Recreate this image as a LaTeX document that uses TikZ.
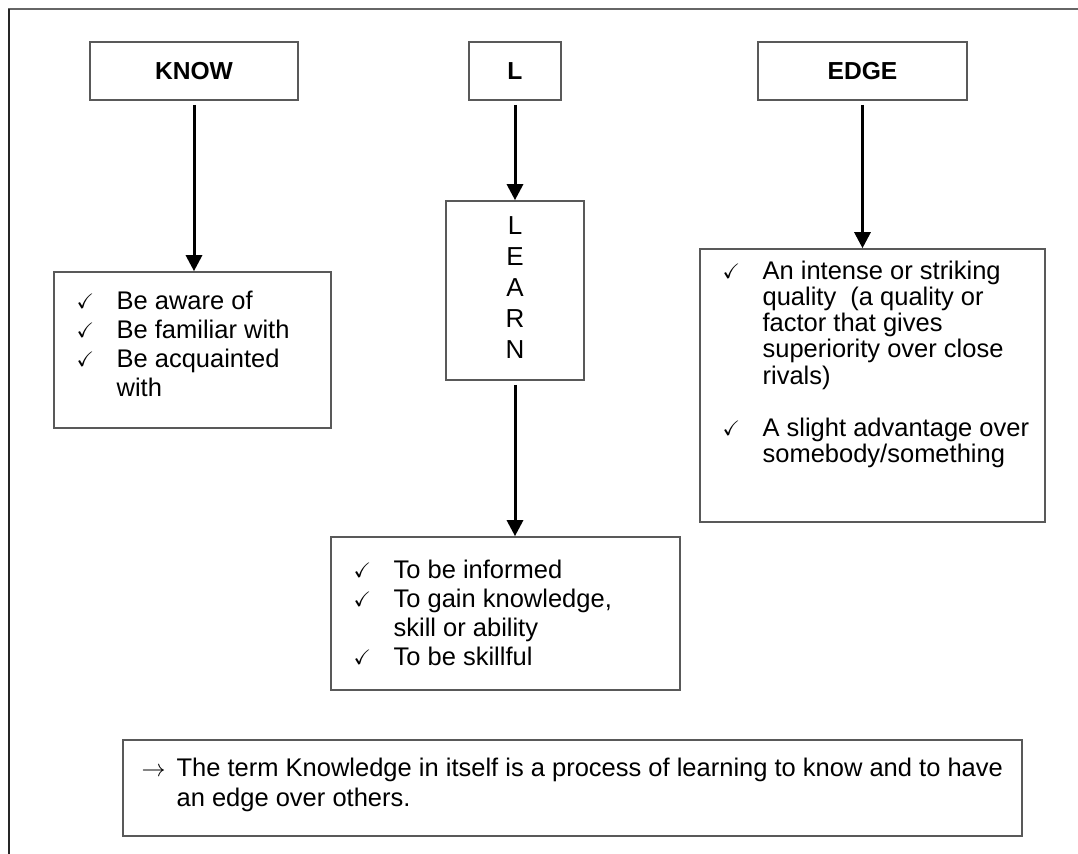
\documentclass[tikz,border=0pt]{standalone}
\usepackage{fontspec}
\setmainfont{Liberation Sans}
\usepackage{amssymb}
\usetikzlibrary{
	arrows.meta,
	positioning
}
\newlength{\chkcol}
\setlength{\chkcol}{20pt}
\newcommand{\chk}{\raisebox{0.5pt}{\fontsize{10.5pt}{10.5pt}\selectfont$\checkmark$}}
\newcommand{\ticklist}[1]{%
	\begin{tabular}{@{}p{\chkcol}@{}l@{}}#1\end{tabular}%
}

\begin{document}
\begin{tikzpicture}[x=0.5pt, y=-0.5pt,
	font=\fontsize{12.75pt}{14.6pt}\selectfont,
	box/.style={draw=black!65, line width=0.8pt, inner sep=0pt},
	head/.style={box, minimum height=29pt, font=\fontsize{12.3pt}{14.1pt}\selectfont\bfseries},
	txt/.style={anchor=north west, inner sep=0pt},
	tighttxt/.style={txt, font=\fontsize{12.75pt}{13pt}\selectfont},
	flow/.style={line width=1.5pt, -{Triangle[width=8pt,length=8pt]}, shorten <=2pt}]
	
	\fill[white] (0,0) rectangle (1078,854);
	\useasboundingbox (0,0) rectangle (1078,854);
	
	% -- Page frame --------------------------------------------------
	\draw[black!60, line width=1pt] (8,9) -- (1078,9);
	\draw[black!85, line width=1pt] (9,9) -- (9,854);
	
	% -- Headings ----------------------------------------------------
	\node[head, minimum width=104pt] (know) at (194,71) {KNOW};
	\node[head, minimum width=46pt]  (l)    at (515,71) {L};
	\node[head, minimum width=104.5pt] (edge) at (862.5,71) {EDGE};
	
	% -- KNOW column -------------------------------------------------
	\node[box, minimum width=138.5pt, minimum height=78pt] (knowlist) at (192.5,350) {};
	\node[txt] (knowtxt) at ([shift={(23,17)}]knowlist.north west) {\ticklist{%
			\chk & Be aware of\\
			\chk & Be familiar with\\
			\chk & Be acquainted\\
			& with}};
	\draw[flow] (know.south) -- (know.south |- knowlist.north);
	
	% -- L column ----------------------------------------------------
	\node[box, minimum width=69pt, minimum height=89.5pt] (learn) at (515,290.5) {};
	\node[anchor=north, inner sep=0pt, align=center,
	font=\fontsize{13pt}{15.5pt}\selectfont] (learntxt)
	at ([yshift=-8pt]learn.north) {L\\E\\A\\R\\N};
	\draw[flow] (l.south) -- (learn.north);
	
	\node[box, minimum width=174.5pt, minimum height=76.5pt] (learnlist) at (505.5,613.5) {};
	\node[txt] (learntick) at ([shift={(23,21)}]learnlist.north west) {\ticklist{%
			\chk & To be informed\\
			\chk & To gain knowledge,\\
			& skill or ability\\
			\chk & To be skillful}};
	\draw[flow] (learn.south) -- (learn.south |- learnlist.north);
	
	% -- EDGE column -------------------------------------------------
	\node[box, minimum width=172.5pt, minimum height=136.5pt] (edgelist) at (872.5,385.5) {};
	\node[tighttxt] (edgetxt) at ([shift={(23,12)}]edgelist.north west) {\ticklist{%
			\chk & An intense or striking\\
			& quality~ (a quality or\\
			& factor that gives\\
			& superiority over close\\
			& rivals)\\[13pt]
			\chk & A slight advantage over\\
			& somebody/something}};
	\draw[flow] (edge.south) -- (edge.south |- edgelist.north);
	
	% -- Closing remark ----------------------------------------------
	\node[box, minimum width=449.5pt, minimum height=48pt] (note) at (572.5,788) {};
	\node[txt, font=\fontsize{12.75pt}{15pt}\selectfont] (notetxt)
	at ([shift={(19,16)}]note.north west) {%
		\begin{tabular}{@{}p{17.5pt}@{}l@{}}
			$\rightarrow$ & The term Knowledge in itself is a process of learning to know and to have\\
			& an edge over others.
	\end{tabular}};
	
\end{tikzpicture}
\end{document}
